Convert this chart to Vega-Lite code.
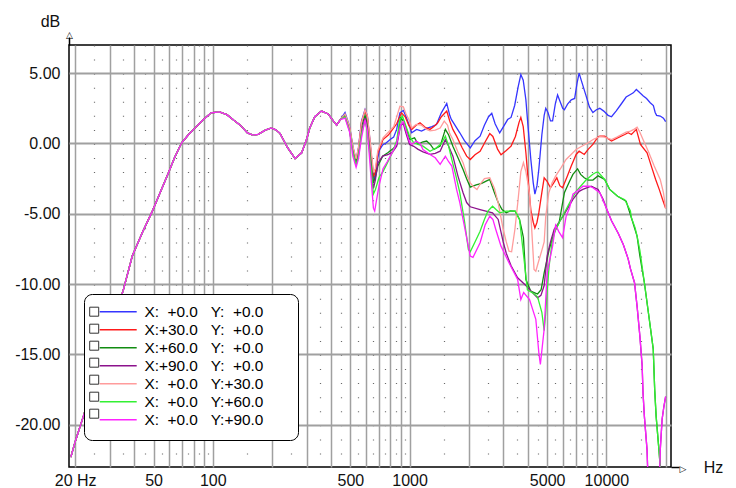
{
"$schema": "https://vega.github.io/schema/vega-lite/v6.json",
"width": 602, "height": 422,
"autosize": {"type": "none"},
"padding": {"left": 69, "top": 45, "right": 65, "bottom": 21},
"background": "white",
"config": {
 "view": {"stroke": "#000", "strokeWidth": 1.5},
 "font": "Liberation Sans",
 "axis": {"labelFont": "Liberation Sans", "labelColor": "#111", "labelFontSize": 16, "titleFontWeight": "normal", "titleColor": "#111", "titleFont": "Liberation Sans"}
},
"datasets": {
 "names": [
  {"s": "a", "label": "X:\u00a0\u00a0+0.0\u00a0\u00a0\u00a0Y:\u00a0\u00a0+0.0"},
  {"s": "b", "label": "X:+30.0\u00a0\u00a0\u00a0Y:\u00a0\u00a0+0.0"},
  {"s": "c", "label": "X:+60.0\u00a0\u00a0\u00a0Y:\u00a0\u00a0+0.0"},
  {"s": "d", "label": "X:+90.0\u00a0\u00a0\u00a0Y:\u00a0\u00a0+0.0"},
  {"s": "e", "label": "X:\u00a0\u00a0+0.0\u00a0\u00a0\u00a0Y:+30.0"},
  {"s": "f", "label": "X:\u00a0\u00a0+0.0\u00a0\u00a0\u00a0Y:+60.0"},
  {"s": "g", "label": "X:\u00a0\u00a0+0.0\u00a0\u00a0\u00a0Y:+90.0"}
 ]
},
"data": {"values": [
{"s":"a","hz":19,"db":-22.3},{"s":"a","hz":20,"db":-21.2},{"s":"a","hz":22,"db":-19.4},{"s":"a","hz":25,"db":-16.8},{"s":"a","hz":28,"db":-14.3},{"s":"a","hz":31,"db":-12.4},{"s":"a","hz":35,"db":-10.5},{"s":"a","hz":39,"db":-8.0},{"s":"a","hz":44,"db":-6.3},{"s":"a","hz":49,"db":-4.9},{"s":"a","hz":54,"db":-3.5},{"s":"a","hz":59.5,"db":-2.1},{"s":"a","hz":64,"db":-1.0},{"s":"a","hz":69.5,"db":0.05},{"s":"a","hz":75,"db":0.6},{"s":"a","hz":80,"db":1.0},{"s":"a","hz":88,"db":1.6},{"s":"a","hz":98,"db":2.18},{"s":"a","hz":108,"db":2.25},{"s":"a","hz":118,"db":2.05},{"s":"a","hz":128,"db":1.65},{"s":"a","hz":138,"db":1.3},{"s":"a","hz":150,"db":0.75},{"s":"a","hz":160,"db":0.6},{"s":"a","hz":170,"db":0.65},{"s":"a","hz":185,"db":0.95},{"s":"a","hz":199,"db":1.11},{"s":"a","hz":210,"db":0.95},{"s":"a","hz":220,"db":0.7},{"s":"a","hz":240,"db":-0.3},{"s":"a","hz":262,"db":-1.07},{"s":"a","hz":283,"db":-0.66},{"s":"a","hz":300,"db":0.3},{"s":"a","hz":311,"db":1.1},{"s":"a","hz":330,"db":1.9},{"s":"a","hz":357,"db":2.3},{"s":"a","hz":386,"db":2.1},{"s":"a","hz":405,"db":1.7},{"s":"a","hz":426,"db":1.3},{"s":"a","hz":445,"db":1.7},
{"s":"a","hz":470,"db":2.2},{"s":"a","hz":496,"db":1.2},{"s":"a","hz":515,"db":-0.2},{"s":"a","hz":535,"db":-1.2},{"s":"a","hz":550,"db":-0.3},{"s":"a","hz":570,"db":1.6},{"s":"a","hz":594,"db":2.42},{"s":"a","hz":610,"db":2.0},{"s":"a","hz":625,"db":0.6},{"s":"a","hz":640,"db":-0.9},{"s":"a","hz":660,"db":-2.6},{"s":"a","hz":672,"db":-2.1},{"s":"a","hz":690,"db":-1.0},{"s":"a","hz":704,"db":-0.45},{"s":"a","hz":730,"db":-0.1},{"s":"a","hz":762,"db":0.05},{"s":"a","hz":800,"db":0.3},{"s":"a","hz":830,"db":0.45},{"s":"a","hz":860,"db":1.0},{"s":"a","hz":893,"db":2.18},{"s":"a","hz":930,"db":2.35},{"s":"a","hz":960,"db":1.9},{"s":"a","hz":985,"db":1.47},{"s":"a","hz":1025,"db":0.76},{"s":"a","hz":1086,"db":1.0},{"s":"a","hz":1150,"db":0.88},{"s":"a","hz":1240,"db":1.11},{"s":"a","hz":1300,"db":1.2},{"s":"a","hz":1370,"db":1.35},{"s":"a","hz":1450,"db":2.18},{"s":"a","hz":1545,"db":2.85},{"s":"a","hz":1600,"db":2.0},{"s":"a","hz":1630,"db":1.71},{"s":"a","hz":1700,"db":1.3},{"s":"a","hz":1800,"db":0.76},{"s":"a","hz":1900,"db":0.2},{"s":"a","hz":2034,"db":-0.31},{"s":"a","hz":2150,"db":0.2},{"s":"a","hz":2282,"db":0.52},{"s":"a","hz":2400,"db":1.3},{"s":"a","hz":2520,"db":1.9},{"s":"a","hz":2616,"db":2.15},{"s":"a","hz":2720,"db":1.4},{"s":"a","hz":2870,"db":0.75},{"s":"a","hz":3000,"db":1.2},{"s":"a","hz":3150,"db":1.7},{"s":"a","hz":3279,"db":1.85},{"s":"a","hz":3420,"db":2.7},{"s":"a","hz":3560,"db":4.0},{"s":"a","hz":3676,"db":4.9},{"s":"a","hz":3780,"db":4.5},{"s":"a","hz":3900,"db":3.1},{"s":"a","hz":4010,"db":1.0},{"s":"a","hz":4130,"db":-1.1},{"s":"a","hz":4250,"db":-2.8},{"s":"a","hz":4333,"db":-3.6},{"s":"a","hz":4440,"db":-3.0},{"s":"a","hz":4540,"db":-1.8},{"s":"a","hz":4700,"db":0.6},{"s":"a","hz":4830,"db":2.0},{"s":"a","hz":4920,"db":2.5},{"s":"a","hz":5050,"db":2.2},{"s":"a","hz":5200,"db":1.6},{"s":"a","hz":5330,"db":1.6},{"s":"a","hz":5500,"db":2.8},{"s":"a","hz":5650,"db":3.45},{"s":"a","hz":5850,"db":2.9},{"s":"a","hz":6000,"db":2.5},{"s":"a","hz":6120,"db":2.4},{"s":"a","hz":6350,"db":2.8},{"s":"a","hz":6630,"db":3.1},{"s":"a","hz":6900,"db":3.2},{"s":"a","hz":7100,"db":4.3},{"s":"a","hz":7270,"db":5.0},{"s":"a","hz":7450,"db":4.5},{"s":"a","hz":7880,"db":3.4},{"s":"a","hz":8200,"db":2.6},{"s":"a","hz":8540,"db":2.2},{"s":"a","hz":8900,"db":2.4},{"s":"a","hz":9260,"db":2.5},{"s":"a","hz":9700,"db":2.3},{"s":"a","hz":10200,"db":2.0},{"s":"a","hz":10620,"db":1.9},{"s":"a","hz":11200,"db":2.3},{"s":"a","hz":11850,"db":2.77},{"s":"a","hz":12600,"db":3.3},{"s":"a","hz":13250,"db":3.48},{"s":"a","hz":13700,"db":3.6},{"s":"a","hz":14200,"db":3.84},{"s":"a","hz":14800,"db":3.6},{"s":"a","hz":15350,"db":3.4},{"s":"a","hz":16000,"db":3.2},{"s":"a","hz":16700,"db":2.9},{"s":"a","hz":17330,"db":2.7},{"s":"a","hz":17700,"db":2.2},{"s":"a","hz":18000,"db":2.0},{"s":"a","hz":18780,"db":1.95},{"s":"a","hz":19500,"db":1.8},{"s":"a","hz":20000,"db":1.55},
{"s":"b","hz":19,"db":-22.3},{"s":"b","hz":20,"db":-21.2},{"s":"b","hz":22,"db":-19.4},{"s":"b","hz":25,"db":-16.8},{"s":"b","hz":28,"db":-14.3},{"s":"b","hz":31,"db":-12.4},{"s":"b","hz":35,"db":-10.5},{"s":"b","hz":39,"db":-8.0},{"s":"b","hz":44,"db":-6.3},{"s":"b","hz":49,"db":-4.9},{"s":"b","hz":54,"db":-3.5},{"s":"b","hz":59.5,"db":-2.1},{"s":"b","hz":64,"db":-1.0},{"s":"b","hz":69.5,"db":0.05},{"s":"b","hz":75,"db":0.6},{"s":"b","hz":80,"db":1.0},{"s":"b","hz":88,"db":1.6},{"s":"b","hz":98,"db":2.18},{"s":"b","hz":108,"db":2.25},{"s":"b","hz":118,"db":2.05},{"s":"b","hz":128,"db":1.65},{"s":"b","hz":138,"db":1.3},{"s":"b","hz":150,"db":0.75},{"s":"b","hz":160,"db":0.6},{"s":"b","hz":170,"db":0.65},{"s":"b","hz":185,"db":0.95},{"s":"b","hz":199,"db":1.11},{"s":"b","hz":210,"db":0.95},{"s":"b","hz":220,"db":0.7},{"s":"b","hz":240,"db":-0.3},{"s":"b","hz":262,"db":-1.07},{"s":"b","hz":283,"db":-0.66},{"s":"b","hz":300,"db":0.3},{"s":"b","hz":311,"db":1.1},{"s":"b","hz":330,"db":1.9},{"s":"b","hz":357,"db":2.3},{"s":"b","hz":386,"db":2.1},{"s":"b","hz":405,"db":1.7},{"s":"b","hz":426,"db":1.3},{"s":"b","hz":445,"db":1.7},
{"s":"b","hz":470,"db":2.05},{"s":"b","hz":496,"db":1.1},{"s":"b","hz":515,"db":-0.3},{"s":"b","hz":535,"db":-1.3},{"s":"b","hz":550,"db":-0.4},{"s":"b","hz":570,"db":1.5},{"s":"b","hz":594,"db":2.3},{"s":"b","hz":610,"db":1.9},{"s":"b","hz":625,"db":0.5},{"s":"b","hz":640,"db":-1.0},{"s":"b","hz":655,"db":-2.4},{"s":"b","hz":670,"db":-2.0},{"s":"b","hz":690,"db":-0.7},{"s":"b","hz":733,"db":0.28},{"s":"b","hz":780,"db":0.6},{"s":"b","hz":820,"db":1.0},{"s":"b","hz":860,"db":1.4},{"s":"b","hz":909,"db":2.18},{"s":"b","hz":950,"db":1.9},{"s":"b","hz":990,"db":1.3},{"s":"b","hz":1025,"db":1.0},{"s":"b","hz":1080,"db":1.3},{"s":"b","hz":1130,"db":1.47},{"s":"b","hz":1200,"db":1.15},{"s":"b","hz":1270,"db":1.0},{"s":"b","hz":1330,"db":1.2},{"s":"b","hz":1390,"db":1.47},{"s":"b","hz":1450,"db":1.9},{"s":"b","hz":1545,"db":2.3},{"s":"b","hz":1600,"db":1.6},{"s":"b","hz":1660,"db":1.0},{"s":"b","hz":1733,"db":0.52},{"s":"b","hz":1850,"db":-0.3},{"s":"b","hz":1950,"db":-0.9},{"s":"b","hz":2034,"db":-1.14},{"s":"b","hz":2150,"db":-0.8},{"s":"b","hz":2282,"db":-0.55},{"s":"b","hz":2420,"db":0.1},{"s":"b","hz":2556,"db":0.7},{"s":"b","hz":2650,"db":0.5},{"s":"b","hz":2800,"db":-0.4},{"s":"b","hz":2915,"db":-0.8},{"s":"b","hz":3100,"db":-0.5},{"s":"b","hz":3279,"db":-0.19},{"s":"b","hz":3450,"db":0.5},{"s":"b","hz":3600,"db":1.5},{"s":"b","hz":3676,"db":1.85},{"s":"b","hz":3780,"db":1.2},{"s":"b","hz":3900,"db":-0.66},{"s":"b","hz":4000,"db":-2.5},{"s":"b","hz":4130,"db":-4.7},{"s":"b","hz":4250,"db":-5.6},{"s":"b","hz":4333,"db":-6.0},{"s":"b","hz":4440,"db":-5.6},{"s":"b","hz":4540,"db":-4.9},{"s":"b","hz":4700,"db":-3.5},{"s":"b","hz":4830,"db":-2.44},{"s":"b","hz":5000,"db":-2.7},{"s":"b","hz":5200,"db":-3.15},{"s":"b","hz":5400,"db":-2.8},{"s":"b","hz":5600,"db":-2.44},{"s":"b","hz":5800,"db":-3.0},{"s":"b","hz":5990,"db":-3.15},{"s":"b","hz":6300,"db":-2.4},{"s":"b","hz":6630,"db":-1.6},{"s":"b","hz":7020,"db":-0.78},{"s":"b","hz":7270,"db":-0.55},{"s":"b","hz":7720,"db":-0.78},{"s":"b","hz":8100,"db":-0.4},{"s":"b","hz":8540,"db":-0.07},{"s":"b","hz":9080,"db":0.48},{"s":"b","hz":9260,"db":0.52},{"s":"b","hz":9800,"db":0.52},{"s":"b","hz":10300,"db":0.3},{"s":"b","hz":10620,"db":0.17},{"s":"b","hz":11400,"db":0.4},{"s":"b","hz":12400,"db":0.64},{"s":"b","hz":12900,"db":0.76},{"s":"b","hz":13400,"db":0.64},{"s":"b","hz":14200,"db":1.0},{"s":"b","hz":14900,"db":-0.07},{"s":"b","hz":16100,"db":-0.66},{"s":"b","hz":17000,"db":-1.7},{"s":"b","hz":17800,"db":-2.56},{"s":"b","hz":18600,"db":-3.3},{"s":"b","hz":19300,"db":-3.98},{"s":"b","hz":20000,"db":-4.6},
{"s":"c","hz":19,"db":-22.3},{"s":"c","hz":20,"db":-21.2},{"s":"c","hz":22,"db":-19.4},{"s":"c","hz":25,"db":-16.8},{"s":"c","hz":28,"db":-14.3},{"s":"c","hz":31,"db":-12.4},{"s":"c","hz":35,"db":-10.5},{"s":"c","hz":39,"db":-8.0},{"s":"c","hz":44,"db":-6.3},{"s":"c","hz":49,"db":-4.9},{"s":"c","hz":54,"db":-3.5},{"s":"c","hz":59.5,"db":-2.1},{"s":"c","hz":64,"db":-1.0},{"s":"c","hz":69.5,"db":0.05},{"s":"c","hz":75,"db":0.6},{"s":"c","hz":80,"db":1.0},{"s":"c","hz":88,"db":1.6},{"s":"c","hz":98,"db":2.18},{"s":"c","hz":108,"db":2.25},{"s":"c","hz":118,"db":2.05},{"s":"c","hz":128,"db":1.65},{"s":"c","hz":138,"db":1.3},{"s":"c","hz":150,"db":0.75},{"s":"c","hz":160,"db":0.6},{"s":"c","hz":170,"db":0.65},{"s":"c","hz":185,"db":0.95},{"s":"c","hz":199,"db":1.11},{"s":"c","hz":210,"db":0.95},{"s":"c","hz":220,"db":0.7},{"s":"c","hz":240,"db":-0.3},{"s":"c","hz":262,"db":-1.07},{"s":"c","hz":283,"db":-0.66},{"s":"c","hz":300,"db":0.3},{"s":"c","hz":311,"db":1.1},{"s":"c","hz":330,"db":1.9},{"s":"c","hz":357,"db":2.3},{"s":"c","hz":386,"db":2.1},{"s":"c","hz":405,"db":1.7},{"s":"c","hz":426,"db":1.3},{"s":"c","hz":445,"db":1.7},
{"s":"c","hz":470,"db":2.0},{"s":"c","hz":496,"db":1.0},{"s":"c","hz":515,"db":-0.4},{"s":"c","hz":535,"db":-1.4},{"s":"c","hz":550,"db":-0.6},{"s":"c","hz":570,"db":1.2},{"s":"c","hz":594,"db":2.0},{"s":"c","hz":610,"db":1.4},{"s":"c","hz":625,"db":0.0},{"s":"c","hz":640,"db":-1.4},{"s":"c","hz":655,"db":-2.8},{"s":"c","hz":670,"db":-2.4},{"s":"c","hz":690,"db":-1.6},{"s":"c","hz":730,"db":-0.9},{"s":"c","hz":775,"db":-0.66},{"s":"c","hz":820,"db":-0.4},{"s":"c","hz":860,"db":-0.1},{"s":"c","hz":880,"db":0.9},{"s":"c","hz":900,"db":1.83},{"s":"c","hz":930,"db":1.6},{"s":"c","hz":960,"db":1.1},{"s":"c","hz":1000,"db":0.28},{"s":"c","hz":1060,"db":0.4},{"s":"c","hz":1107,"db":-0.07},{"s":"c","hz":1160,"db":0.1},{"s":"c","hz":1221,"db":0.17},{"s":"c","hz":1280,"db":-0.1},{"s":"c","hz":1330,"db":-0.43},{"s":"c","hz":1430,"db":-0.19},{"s":"c","hz":1520,"db":1.0},{"s":"c","hz":1580,"db":0.6},{"s":"c","hz":1660,"db":-0.19},{"s":"c","hz":1760,"db":-1.0},{"s":"c","hz":1870,"db":-1.85},{"s":"c","hz":1950,"db":-2.5},{"s":"c","hz":2034,"db":-3.1},{"s":"c","hz":2180,"db":-2.95},{"s":"c","hz":2326,"db":-2.84},{"s":"c","hz":2450,"db":-2.68},{"s":"c","hz":2556,"db":-2.56},{"s":"c","hz":2700,"db":-3.5},{"s":"c","hz":2820,"db":-4.2},{"s":"c","hz":2950,"db":-4.7},{"s":"c","hz":3100,"db":-4.93},{"s":"c","hz":3250,"db":-4.8},{"s":"c","hz":3440,"db":-4.81},{"s":"c","hz":3620,"db":-5.4},{"s":"c","hz":3700,"db":-6.0},{"s":"c","hz":3790,"db":-6.7},{"s":"c","hz":3900,"db":-9.67},{"s":"c","hz":4130,"db":-10.5},{"s":"c","hz":4300,"db":-10.6},{"s":"c","hz":4470,"db":-10.7},{"s":"c","hz":4660,"db":-10.4},{"s":"c","hz":4830,"db":-9.2},{"s":"c","hz":5120,"db":-7.54},{"s":"c","hz":5430,"db":-6.35},{"s":"c","hz":5750,"db":-5.64},{"s":"c","hz":6120,"db":-3.5},{"s":"c","hz":6450,"db":-2.8},{"s":"c","hz":6760,"db":-2.2},{"s":"c","hz":7140,"db":-1.8},{"s":"c","hz":7400,"db":-2.2},{"s":"c","hz":7720,"db":-2.44},{"s":"c","hz":8100,"db":-2.6},{"s":"c","hz":8540,"db":-2.6},{"s":"c","hz":9080,"db":-2.3},{"s":"c","hz":9800,"db":-2.56},{"s":"c","hz":10400,"db":-3.27},{"s":"c","hz":11400,"db":-3.75},{"s":"c","hz":12600,"db":-4.1},{"s":"c","hz":13400,"db":-5.28},{"s":"c","hz":14330,"db":-6.6},{"s":"c","hz":14800,"db":-8.0},{"s":"c","hz":15600,"db":-9.9},{"s":"c","hz":16450,"db":-12.3},{"s":"c","hz":17300,"db":-14.6},{"s":"c","hz":17600,"db":-17.5},{"s":"c","hz":17900,"db":-19.4},{"s":"c","hz":18500,"db":-21.8},{"s":"c","hz":18780,"db":-23.0},{"s":"c","hz":19500,"db":-27},{"s":"c","hz":20000,"db":-30},
{"s":"d","hz":19,"db":-22.3},{"s":"d","hz":20,"db":-21.2},{"s":"d","hz":22,"db":-19.4},{"s":"d","hz":25,"db":-16.8},{"s":"d","hz":28,"db":-14.3},{"s":"d","hz":31,"db":-12.4},{"s":"d","hz":35,"db":-10.5},{"s":"d","hz":39,"db":-8.0},{"s":"d","hz":44,"db":-6.3},{"s":"d","hz":49,"db":-4.9},{"s":"d","hz":54,"db":-3.5},{"s":"d","hz":59.5,"db":-2.1},{"s":"d","hz":64,"db":-1.0},{"s":"d","hz":69.5,"db":0.05},{"s":"d","hz":75,"db":0.6},{"s":"d","hz":80,"db":1.0},{"s":"d","hz":88,"db":1.6},{"s":"d","hz":98,"db":2.18},{"s":"d","hz":108,"db":2.25},{"s":"d","hz":118,"db":2.05},{"s":"d","hz":128,"db":1.65},{"s":"d","hz":138,"db":1.3},{"s":"d","hz":150,"db":0.75},{"s":"d","hz":160,"db":0.6},{"s":"d","hz":170,"db":0.65},{"s":"d","hz":185,"db":0.95},{"s":"d","hz":199,"db":1.11},{"s":"d","hz":210,"db":0.95},{"s":"d","hz":220,"db":0.7},{"s":"d","hz":240,"db":-0.3},{"s":"d","hz":262,"db":-1.07},{"s":"d","hz":283,"db":-0.66},{"s":"d","hz":300,"db":0.3},{"s":"d","hz":311,"db":1.1},{"s":"d","hz":330,"db":1.9},{"s":"d","hz":357,"db":2.3},{"s":"d","hz":386,"db":2.1},{"s":"d","hz":405,"db":1.7},{"s":"d","hz":426,"db":1.3},{"s":"d","hz":445,"db":1.7},
{"s":"d","hz":470,"db":1.9},{"s":"d","hz":496,"db":0.9},{"s":"d","hz":515,"db":-0.5},{"s":"d","hz":535,"db":-1.5},{"s":"d","hz":550,"db":-0.8},{"s":"d","hz":570,"db":0.9},{"s":"d","hz":594,"db":1.8},{"s":"d","hz":610,"db":1.1},{"s":"d","hz":625,"db":-0.3},{"s":"d","hz":640,"db":-1.8},{"s":"d","hz":655,"db":-3.2},{"s":"d","hz":670,"db":-2.6},{"s":"d","hz":690,"db":-1.4},{"s":"d","hz":730,"db":-0.9},{"s":"d","hz":775,"db":-0.8},{"s":"d","hz":820,"db":-0.6},{"s":"d","hz":860,"db":-0.2},{"s":"d","hz":900,"db":1.3},{"s":"d","hz":930,"db":1.4},{"s":"d","hz":960,"db":0.7},{"s":"d","hz":1000,"db":-0.07},{"s":"d","hz":1050,"db":-0.2},{"s":"d","hz":1100,"db":-0.4},{"s":"d","hz":1170,"db":-0.6},{"s":"d","hz":1270,"db":-0.78},{"s":"d","hz":1350,"db":-0.7},{"s":"d","hz":1430,"db":-0.55},{"s":"d","hz":1520,"db":0.28},{"s":"d","hz":1580,"db":-0.2},{"s":"d","hz":1660,"db":-0.9},{"s":"d","hz":1760,"db":-2.3},{"s":"d","hz":1870,"db":-3.5},{"s":"d","hz":1950,"db":-4.2},{"s":"d","hz":2034,"db":-4.5},{"s":"d","hz":2282,"db":-4.7},{"s":"d","hz":2440,"db":-4.81},{"s":"d","hz":2640,"db":-4.93},{"s":"d","hz":2820,"db":-5.4},{"s":"d","hz":2990,"db":-7.0},{"s":"d","hz":3100,"db":-7.8},{"s":"d","hz":3280,"db":-8.7},{"s":"d","hz":3540,"db":-9.55},{"s":"d","hz":3900,"db":-10.1},{"s":"d","hz":4210,"db":-10.6},{"s":"d","hz":4470,"db":-10.97},{"s":"d","hz":4650,"db":-10.8},{"s":"d","hz":4830,"db":-10.1},{"s":"d","hz":5000,"db":-8.0},{"s":"d","hz":5200,"db":-7.0},{"s":"d","hz":5430,"db":-6.1},{"s":"d","hz":5880,"db":-5.4},{"s":"d","hz":6240,"db":-4.81},{"s":"d","hz":6760,"db":-3.98},{"s":"d","hz":7270,"db":-3.4},{"s":"d","hz":7590,"db":-3.27},{"s":"d","hz":8370,"db":-3.04},{"s":"d","hz":9080,"db":-3.27},{"s":"d","hz":9640,"db":-3.98},{"s":"d","hz":10000,"db":-4.6},{"s":"d","hz":10620,"db":-5.5},{"s":"d","hz":11500,"db":-6.4},{"s":"d","hz":12200,"db":-7.2},{"s":"d","hz":12900,"db":-8.2},{"s":"d","hz":13250,"db":-8.9},{"s":"d","hz":13900,"db":-9.9},{"s":"d","hz":14330,"db":-11.6},{"s":"d","hz":14800,"db":-13.7},{"s":"d","hz":15200,"db":-15.8},{"s":"d","hz":15350,"db":-17.7},{"s":"d","hz":15600,"db":-19.4},{"s":"d","hz":16100,"db":-21.8},{"s":"d","hz":16200,"db":-23.0},{"s":"d","hz":16500,"db":-25},{"s":"d","hz":17000,"db":-28},{"s":"d","hz":18000,"db":-28},{"s":"d","hz":18500,"db":-25},{"s":"d","hz":18780,"db":-21.8},{"s":"d","hz":19200,"db":-19.6},{"s":"d","hz":19600,"db":-18.7},{"s":"d","hz":20000,"db":-18.0},
{"s":"e","hz":19,"db":-22.3},{"s":"e","hz":20,"db":-21.2},{"s":"e","hz":22,"db":-19.4},{"s":"e","hz":25,"db":-16.8},{"s":"e","hz":28,"db":-14.3},{"s":"e","hz":31,"db":-12.4},{"s":"e","hz":35,"db":-10.5},{"s":"e","hz":39,"db":-8.0},{"s":"e","hz":44,"db":-6.3},{"s":"e","hz":49,"db":-4.9},{"s":"e","hz":54,"db":-3.5},{"s":"e","hz":59.5,"db":-2.1},{"s":"e","hz":64,"db":-1.0},{"s":"e","hz":69.5,"db":0.05},{"s":"e","hz":75,"db":0.6},{"s":"e","hz":80,"db":1.0},{"s":"e","hz":88,"db":1.6},{"s":"e","hz":98,"db":2.18},{"s":"e","hz":108,"db":2.25},{"s":"e","hz":118,"db":2.05},{"s":"e","hz":128,"db":1.65},{"s":"e","hz":138,"db":1.3},{"s":"e","hz":150,"db":0.75},{"s":"e","hz":160,"db":0.6},{"s":"e","hz":170,"db":0.65},{"s":"e","hz":185,"db":0.95},{"s":"e","hz":199,"db":1.11},{"s":"e","hz":210,"db":0.95},{"s":"e","hz":220,"db":0.7},{"s":"e","hz":240,"db":-0.3},{"s":"e","hz":262,"db":-1.07},{"s":"e","hz":283,"db":-0.66},{"s":"e","hz":300,"db":0.3},{"s":"e","hz":311,"db":1.1},{"s":"e","hz":330,"db":1.9},{"s":"e","hz":357,"db":2.3},{"s":"e","hz":386,"db":2.1},{"s":"e","hz":405,"db":1.7},{"s":"e","hz":426,"db":1.3},{"s":"e","hz":445,"db":1.7},
{"s":"e","hz":470,"db":2.1},{"s":"e","hz":496,"db":1.2},{"s":"e","hz":515,"db":-0.2},{"s":"e","hz":535,"db":-1.1},{"s":"e","hz":550,"db":-0.3},{"s":"e","hz":570,"db":1.5},{"s":"e","hz":594,"db":2.4},{"s":"e","hz":610,"db":2.0},{"s":"e","hz":625,"db":0.7},{"s":"e","hz":640,"db":-0.7},{"s":"e","hz":655,"db":-2.0},{"s":"e","hz":670,"db":-1.8},{"s":"e","hz":690,"db":-0.5},{"s":"e","hz":733,"db":0.4},{"s":"e","hz":780,"db":0.8},{"s":"e","hz":830,"db":1.2},{"s":"e","hz":865,"db":2.0},{"s":"e","hz":893,"db":2.65},{"s":"e","hz":930,"db":2.6},{"s":"e","hz":960,"db":2.1},{"s":"e","hz":1000,"db":1.6},{"s":"e","hz":1025,"db":1.1},{"s":"e","hz":1080,"db":1.35},{"s":"e","hz":1150,"db":1.3},{"s":"e","hz":1220,"db":1.0},{"s":"e","hz":1270,"db":0.9},{"s":"e","hz":1350,"db":0.95},{"s":"e","hz":1430,"db":1.1},{"s":"e","hz":1500,"db":1.59},{"s":"e","hz":1560,"db":1.3},{"s":"e","hz":1600,"db":0.7},{"s":"e","hz":1660,"db":0.28},{"s":"e","hz":1760,"db":-0.6},{"s":"e","hz":1870,"db":-1.37},{"s":"e","hz":1950,"db":-2.2},{"s":"e","hz":2034,"db":-2.8},{"s":"e","hz":2120,"db":-3.1},{"s":"e","hz":2200,"db":-3.27},{"s":"e","hz":2282,"db":-2.9},{"s":"e","hz":2400,"db":-2.5},{"s":"e","hz":2556,"db":-2.44},{"s":"e","hz":2700,"db":-3.2},{"s":"e","hz":2820,"db":-4.22},{"s":"e","hz":2990,"db":-6.1},{"s":"e","hz":3100,"db":-7.0},{"s":"e","hz":3200,"db":-7.66},{"s":"e","hz":3300,"db":-7.7},{"s":"e","hz":3430,"db":-6.1},{"s":"e","hz":3560,"db":-4.0},{"s":"e","hz":3676,"db":-2.0},{"s":"e","hz":3790,"db":-1.37},{"s":"e","hz":3900,"db":-2.0},{"s":"e","hz":4000,"db":-2.9},{"s":"e","hz":4070,"db":-3.6},{"s":"e","hz":4170,"db":-6.0},{"s":"e","hz":4290,"db":-8.96},{"s":"e","hz":4380,"db":-9.08},{"s":"e","hz":4500,"db":-8.5},{"s":"e","hz":4700,"db":-7.6},{"s":"e","hz":4830,"db":-7.0},{"s":"e","hz":4920,"db":-5.17},{"s":"e","hz":5100,"db":-3.5},{"s":"e","hz":5300,"db":-2.8},{"s":"e","hz":5520,"db":-2.32},{"s":"e","hz":5900,"db":-1.7},{"s":"e","hz":6240,"db":-1.14},{"s":"e","hz":6600,"db":-0.8},{"s":"e","hz":7020,"db":-0.43},{"s":"e","hz":7500,"db":-0.2},{"s":"e","hz":8080,"db":0.05},{"s":"e","hz":8600,"db":0.3},{"s":"e","hz":9260,"db":0.48},{"s":"e","hz":9800,"db":0.45},{"s":"e","hz":10620,"db":0.28},{"s":"e","hz":11300,"db":0.45},{"s":"e","hz":11950,"db":0.64},{"s":"e","hz":12600,"db":0.8},{"s":"e","hz":13250,"db":0.88},{"s":"e","hz":13800,"db":1.0},{"s":"e","hz":14330,"db":1.15},{"s":"e","hz":14800,"db":0.8},{"s":"e","hz":15350,"db":0.28},{"s":"e","hz":16450,"db":-0.66},{"s":"e","hz":17500,"db":-1.6},{"s":"e","hz":18780,"db":-2.56},{"s":"e","hz":19500,"db":-3.5},{"s":"e","hz":20000,"db":-4.6},
{"s":"f","hz":19,"db":-22.3},{"s":"f","hz":20,"db":-21.2},{"s":"f","hz":22,"db":-19.4},{"s":"f","hz":25,"db":-16.8},{"s":"f","hz":28,"db":-14.3},{"s":"f","hz":31,"db":-12.4},{"s":"f","hz":35,"db":-10.5},{"s":"f","hz":39,"db":-8.0},{"s":"f","hz":44,"db":-6.3},{"s":"f","hz":49,"db":-4.9},{"s":"f","hz":54,"db":-3.5},{"s":"f","hz":59.5,"db":-2.1},{"s":"f","hz":64,"db":-1.0},{"s":"f","hz":69.5,"db":0.05},{"s":"f","hz":75,"db":0.6},{"s":"f","hz":80,"db":1.0},{"s":"f","hz":88,"db":1.6},{"s":"f","hz":98,"db":2.18},{"s":"f","hz":108,"db":2.25},{"s":"f","hz":118,"db":2.05},{"s":"f","hz":128,"db":1.65},{"s":"f","hz":138,"db":1.3},{"s":"f","hz":150,"db":0.75},{"s":"f","hz":160,"db":0.6},{"s":"f","hz":170,"db":0.65},{"s":"f","hz":185,"db":0.95},{"s":"f","hz":199,"db":1.11},{"s":"f","hz":210,"db":0.95},{"s":"f","hz":220,"db":0.7},{"s":"f","hz":240,"db":-0.3},{"s":"f","hz":262,"db":-1.07},{"s":"f","hz":283,"db":-0.66},{"s":"f","hz":300,"db":0.3},{"s":"f","hz":311,"db":1.1},{"s":"f","hz":330,"db":1.9},{"s":"f","hz":357,"db":2.3},{"s":"f","hz":386,"db":2.1},{"s":"f","hz":405,"db":1.7},{"s":"f","hz":426,"db":1.3},{"s":"f","hz":445,"db":1.7},
{"s":"f","hz":470,"db":1.9},{"s":"f","hz":496,"db":0.9},{"s":"f","hz":515,"db":-0.6},{"s":"f","hz":535,"db":-1.5},{"s":"f","hz":550,"db":-0.9},{"s":"f","hz":570,"db":0.7},{"s":"f","hz":594,"db":1.6},{"s":"f","hz":610,"db":0.9},{"s":"f","hz":625,"db":-0.5},{"s":"f","hz":640,"db":-2.0},{"s":"f","hz":655,"db":-3.6},{"s":"f","hz":670,"db":-3.3},{"s":"f","hz":700,"db":-2.4},{"s":"f","hz":733,"db":-2.0},{"s":"f","hz":770,"db":-1.4},{"s":"f","hz":820,"db":-0.6},{"s":"f","hz":860,"db":0.2},{"s":"f","hz":893,"db":1.7},{"s":"f","hz":920,"db":1.94},{"s":"f","hz":960,"db":1.2},{"s":"f","hz":1000,"db":0.5},{"s":"f","hz":1050,"db":0.05},{"s":"f","hz":1100,"db":-0.05},{"s":"f","hz":1170,"db":-0.19},{"s":"f","hz":1270,"db":-0.55},{"s":"f","hz":1370,"db":-0.31},{"s":"f","hz":1450,"db":0.0},{"s":"f","hz":1520,"db":0.52},{"s":"f","hz":1580,"db":-0.2},{"s":"f","hz":1630,"db":-1.0},{"s":"f","hz":1720,"db":-2.3},{"s":"f","hz":1800,"db":-3.5},{"s":"f","hz":1900,"db":-5.5},{"s":"f","hz":1990,"db":-7.54},{"s":"f","hz":2034,"db":-7.7},{"s":"f","hz":2150,"db":-7.0},{"s":"f","hz":2282,"db":-6.24},{"s":"f","hz":2400,"db":-5.4},{"s":"f","hz":2500,"db":-4.81},{"s":"f","hz":2640,"db":-4.46},{"s":"f","hz":2750,"db":-4.7},{"s":"f","hz":2870,"db":-4.93},{"s":"f","hz":3100,"db":-4.81},{"s":"f","hz":3440,"db":-4.81},{"s":"f","hz":3620,"db":-5.4},{"s":"f","hz":3800,"db":-8.0},{"s":"f","hz":3970,"db":-10.4},{"s":"f","hz":4200,"db":-10.6},{"s":"f","hz":4470,"db":-10.9},{"s":"f","hz":4700,"db":-12.0},{"s":"f","hz":4830,"db":-13.3},{"s":"f","hz":4920,"db":-12.0},{"s":"f","hz":5000,"db":-10.5},{"s":"f","hz":5120,"db":-8.7},{"s":"f","hz":5300,"db":-7.0},{"s":"f","hz":5520,"db":-6.1},{"s":"f","hz":5990,"db":-5.17},{"s":"f","hz":6500,"db":-4.22},{"s":"f","hz":7020,"db":-3.4},{"s":"f","hz":7880,"db":-2.6},{"s":"f","hz":8500,"db":-2.2},{"s":"f","hz":8880,"db":-2.05},{"s":"f","hz":9080,"db":-2.04},{"s":"f","hz":9800,"db":-2.56},{"s":"f","hz":10400,"db":-3.27},{"s":"f","hz":11400,"db":-3.75},{"s":"f","hz":12400,"db":-4.0},{"s":"f","hz":13250,"db":-4.8},{"s":"f","hz":13400,"db":-5.28},{"s":"f","hz":14000,"db":-6.0},{"s":"f","hz":14330,"db":-6.6},{"s":"f","hz":14800,"db":-7.6},{"s":"f","hz":15600,"db":-9.9},{"s":"f","hz":16450,"db":-12.3},{"s":"f","hz":17300,"db":-14.6},{"s":"f","hz":17600,"db":-17.5},{"s":"f","hz":17900,"db":-19.4},{"s":"f","hz":18500,"db":-21.8},{"s":"f","hz":18780,"db":-23.0},{"s":"f","hz":19500,"db":-27},{"s":"f","hz":20000,"db":-30},
{"s":"g","hz":19,"db":-22.3},{"s":"g","hz":20,"db":-21.2},{"s":"g","hz":22,"db":-19.4},{"s":"g","hz":25,"db":-16.8},{"s":"g","hz":28,"db":-14.3},{"s":"g","hz":31,"db":-12.4},{"s":"g","hz":35,"db":-10.5},{"s":"g","hz":39,"db":-8.0},{"s":"g","hz":44,"db":-6.3},{"s":"g","hz":49,"db":-4.9},{"s":"g","hz":54,"db":-3.5},{"s":"g","hz":59.5,"db":-2.1},{"s":"g","hz":64,"db":-1.0},{"s":"g","hz":69.5,"db":0.05},{"s":"g","hz":75,"db":0.6},{"s":"g","hz":80,"db":1.0},{"s":"g","hz":88,"db":1.6},{"s":"g","hz":98,"db":2.18},{"s":"g","hz":108,"db":2.25},{"s":"g","hz":118,"db":2.05},{"s":"g","hz":128,"db":1.65},{"s":"g","hz":138,"db":1.3},{"s":"g","hz":150,"db":0.75},{"s":"g","hz":160,"db":0.6},{"s":"g","hz":170,"db":0.65},{"s":"g","hz":185,"db":0.95},{"s":"g","hz":199,"db":1.11},{"s":"g","hz":210,"db":0.95},{"s":"g","hz":220,"db":0.7},{"s":"g","hz":240,"db":-0.3},{"s":"g","hz":262,"db":-1.07},{"s":"g","hz":283,"db":-0.66},{"s":"g","hz":300,"db":0.3},{"s":"g","hz":311,"db":1.1},{"s":"g","hz":330,"db":1.9},{"s":"g","hz":357,"db":2.3},{"s":"g","hz":386,"db":2.1},{"s":"g","hz":405,"db":1.7},{"s":"g","hz":426,"db":1.3},{"s":"g","hz":445,"db":1.7},
{"s":"g","hz":470,"db":1.8},{"s":"g","hz":496,"db":0.8},{"s":"g","hz":515,"db":-0.9},{"s":"g","hz":535,"db":-1.7},{"s":"g","hz":550,"db":-1.1},{"s":"g","hz":570,"db":0.4},{"s":"g","hz":594,"db":1.7},{"s":"g","hz":610,"db":0.9},{"s":"g","hz":625,"db":-0.9},{"s":"g","hz":640,"db":-2.8},{"s":"g","hz":655,"db":-4.6},{"s":"g","hz":665,"db":-4.8},{"s":"g","hz":680,"db":-4.0},{"s":"g","hz":700,"db":-3.0},{"s":"g","hz":733,"db":-1.8},{"s":"g","hz":770,"db":-1.3},{"s":"g","hz":820,"db":-0.6},{"s":"g","hz":860,"db":0.0},{"s":"g","hz":900,"db":1.3},{"s":"g","hz":930,"db":1.55},{"s":"g","hz":960,"db":0.9},{"s":"g","hz":1000,"db":0.1},{"s":"g","hz":1025,"db":-0.07},{"s":"g","hz":1080,"db":0.17},{"s":"g","hz":1130,"db":0.0},{"s":"g","hz":1170,"db":-0.43},{"s":"g","hz":1270,"db":-0.78},{"s":"g","hz":1350,"db":-1.02},{"s":"g","hz":1430,"db":-1.49},{"s":"g","hz":1520,"db":-0.9},{"s":"g","hz":1580,"db":-1.3},{"s":"g","hz":1640,"db":-1.61},{"s":"g","hz":1733,"db":-3.27},{"s":"g","hz":1800,"db":-4.2},{"s":"g","hz":1870,"db":-5.4},{"s":"g","hz":2034,"db":-8.0},{"s":"g","hz":2100,"db":-8.1},{"s":"g","hz":2282,"db":-7.06},{"s":"g","hz":2420,"db":-5.8},{"s":"g","hz":2556,"db":-5.17},{"s":"g","hz":2650,"db":-5.4},{"s":"g","hz":2740,"db":-6.1},{"s":"g","hz":2915,"db":-7.3},{"s":"g","hz":3200,"db":-8.48},{"s":"g","hz":3540,"db":-9.67},{"s":"g","hz":3676,"db":-11.1},{"s":"g","hz":3800,"db":-10.6},{"s":"g","hz":4070,"db":-11.1},{"s":"g","hz":4380,"db":-12.5},{"s":"g","hz":4540,"db":-14.9},{"s":"g","hz":4620,"db":-15.7},{"s":"g","hz":4720,"db":-14.5},{"s":"g","hz":4830,"db":-13.2},{"s":"g","hz":5000,"db":-9.2},{"s":"g","hz":5330,"db":-7.3},{"s":"g","hz":5520,"db":-5.8},{"s":"g","hz":5750,"db":-6.3},{"s":"g","hz":5990,"db":-6.7},{"s":"g","hz":6240,"db":-5.2},{"s":"g","hz":6500,"db":-4.57},{"s":"g","hz":6760,"db":-3.6},{"s":"g","hz":7270,"db":-3.27},{"s":"g","hz":7590,"db":-3.04},{"s":"g","hz":8200,"db":-3.04},{"s":"g","hz":8540,"db":-3.15},{"s":"g","hz":9260,"db":-3.5},{"s":"g","hz":10000,"db":-4.6},{"s":"g","hz":10620,"db":-5.5},{"s":"g","hz":11500,"db":-6.4},{"s":"g","hz":12200,"db":-7.2},{"s":"g","hz":12900,"db":-8.2},{"s":"g","hz":13250,"db":-8.9},{"s":"g","hz":13900,"db":-9.9},{"s":"g","hz":14330,"db":-11.6},{"s":"g","hz":14800,"db":-13.7},{"s":"g","hz":15200,"db":-15.8},{"s":"g","hz":15350,"db":-17.7},{"s":"g","hz":15600,"db":-19.4},{"s":"g","hz":16100,"db":-21.8},{"s":"g","hz":16200,"db":-23.0},{"s":"g","hz":16500,"db":-25},{"s":"g","hz":17000,"db":-28},{"s":"g","hz":18000,"db":-28},{"s":"g","hz":18500,"db":-25},{"s":"g","hz":18780,"db":-21.8},{"s":"g","hz":19200,"db":-19.6},{"s":"g","hz":19600,"db":-18.7},{"s":"g","hz":20000,"db":-18.0}
]},
"transform": [{"lookup": "s", "from": {"data": {"name": "names"}, "key": "s", "fields": ["label"]}}],
"layer": [
 {
  "mark": {"type": "line", "strokeWidth": 1.3, "clip": true},
  "encoding": {
   "x": {"field": "hz", "type": "quantitative", "scale": {"type": "log", "domain": [18.6, 21300], "nice": false},
    "axis": {"orient": "bottom",
     "values": [20,25,30,35,40,45,50,55,60,65,70,75,80,85,90,95,100,150,200,250,300,350,400,450,500,550,600,650,700,750,800,850,900,950,1000,1500,2000,2500,3000,3500,4000,4500,5000,5500,6000,6500,7000,7500,8000,8500,9000,9500,10000,15000,20000],
     "labelExpr": "datum.value == 20 ? '20 Hz' : (indexof([50,100,500,1000,5000,10000], datum.value) >= 0 ? '' + datum.value : '')",
     "labelOverlap": false, "labelFlush": false, "labelPadding": 5, "ticks": false, "domain": false,
     "grid": true,
     "gridColor": {"condition": {"test": "indexof([25,35,45,55,65,75,85,95,150,250,350,450,550,650,750,850,950,1500,2500,3500,4500,5500,6500,7500,8500,9500,15000], datum.value) >= 0", "value": "#6a6a6a"}, "value": "#a0a0a0"},
     "gridDash": {"condition": {"test": "indexof([25,35,45,55,65,75,85,95,150,250,350,450,550,650,750,850,950,1500,2500,3500,4500,5500,6500,7500,8500,9500,15000], datum.value) >= 0", "value": [1, 13.067]}, "value": []},
     "gridWidth": {"condition": {"test": "indexof([25,35,45,55,65,75,85,95,150,250,350,450,550,650,750,850,950,1500,2500,3500,4500,5500,6500,7500,8500,9500,15000], datum.value) >= 0", "value": 1.2}, "value": 1.5},
     "title": "Hz", "titleX": 644, "titleY": 5, "titleAlign": "center", "titleBaseline": "alphabetic", "titleFontSize": 16}},
   "y": {"field": "db", "type": "quantitative", "scale": {"domain": [-23, 7], "nice": false, "zero": false},
    "axis": {"orient": "left", "values": [-20,-15,-10,-5,0,5],
     "labelExpr": "(datum.value < 0 ? '-' : '') + format(abs(datum.value), '.2f')",
     "labelPadding": 9, "ticks": false, "domain": false,
     "grid": true, "gridColor": "#a0a0a0", "gridWidth": 2,
     "title": "dB", "titleAngle": 0, "titleX": -19, "titleY": -19, "titleAlign": "center", "titleBaseline": "alphabetic", "titleFontSize": 16}},
   "color": {"field": "label", "type": "nominal", "sort": {"field": "s", "op": "min"},
    "scale": {"range": ["#3535ff", "#ff1a1a", "#118c11", "#8c128c", "#ff9c9c", "#33f033", "#ff22ff"]},
    "legend": {"orient": "none", "legendX": 15, "legendY": 249, "title": null,
     "fillColor": "#ffffff", "strokeColor": "#000000", "cornerRadius": 8, "padding": 10,
     "symbolType": "M-0.4,0H7M36.5,0M0,1.37", "symbolSize": 100, "symbolStrokeWidth": 1.5,
     "labelFont": "Liberation Sans", "labelFontSize": 15.4, "labelColor": "#000", "labelOffset": 35, "labelLimit": 400,
     "rowPadding": 0}}
  }
 },
 {
  "mark": {"type": "point", "opacity": 0},
  "encoding": {
   "x": {"field": "hz", "type": "quantitative", "scale": {"type": "log", "domain": [18.6, 21300], "nice": false},
    "axis": {"orient": "top", "values": [18.6], "labels": false, "ticks": true, "tickSize": 8, "tickColor": "#000", "tickWidth": 1.5, "domain": false, "grid": false,
     "title": "\u25b3", "titleFont": "DejaVu Sans", "titleFontSize": 9, "titleX": 0, "titleY": -10.5, "titleAlign": "center", "titleBaseline": "middle", "titleColor": "#000"}},
   "y": {"field": "db", "type": "quantitative", "scale": {"domain": [-23, 7], "nice": false, "zero": false},
    "axis": {"orient": "right", "values": [-23], "labels": false, "ticks": true, "tickSize": 8, "tickColor": "#000", "tickWidth": 1.5, "domain": false, "grid": false,
     "title": "\u25b7", "titleFont": "DejaVu Sans", "titleFontSize": 9, "titleAngle": 0, "titleX": 8, "titleY": 423, "titleAlign": "left", "titleBaseline": "middle", "titleColor": "#000"}},
   "shape": {"field": "label", "type": "nominal", "sort": "descending", "scale": {"range": ["M-1,-1H1V1H-1ZM0,1.57"]},
    "legend": {"orient": "none", "legendX": 17.5, "legendY": 259, "title": null, "padding": 0,
     "symbolSize": 81, "symbolStrokeColor": "#333", "symbolFillColor": "#fff", "symbolStrokeWidth": 1, "symbolOpacity": 1,
     "labelExpr": "'\u00a0'", "labelFontSize": 15.4, "labelOpacity": 0, "labelOffset": 2, "labelLimit": 400, "rowPadding": 0}}
  }
 }
],
"resolve": {"axis": {"x": "independent", "y": "independent"}}
}
